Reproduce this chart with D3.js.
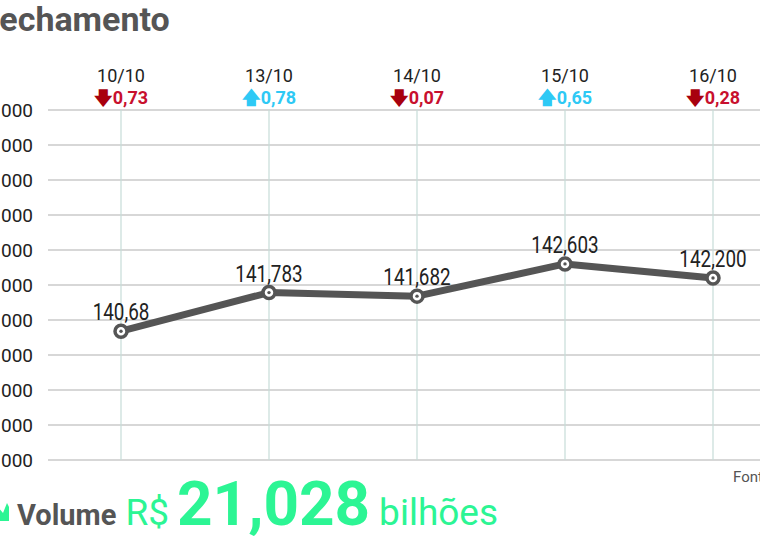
<!DOCTYPE html>
<html><head><meta charset="utf-8">
<script src="https://cdn.jsdelivr.net/npm/d3@7"></script>
<style>
html,body{margin:0;padding:0;background:#fff;overflow:hidden}
svg{display:block}
</style></head>
<body>
<svg id="c" width="760" height="541"></svg>
<script>
const dates = ["10/10","13/10","14/10","15/10","16/10"];
const closes = [140.680,141.783,141.682,142.603,142.200];
const closeLabels = ["140,68","141,783","141,682","142,603","142,200"];
const changes = [-0.73, 0.78, -0.07, 0.65, -0.28];
const yTicks = [137,138,139,140,141,142,143,144,145,146,147];
const volume = "21,028";

const svg = d3.select("#c");
const x = d3.scalePoint().domain(dates).range([121, 713]);
const y = d3.scaleLinear().domain([137, 147]).range([460, 110]);

const roboto = "Roboto, 'Noto Sans', sans-serif";

// Title (partly cut off)
svg.append("text").attr("x", -19).attr("y", 31)
  .attr("font-family", roboto).attr("font-weight", 700).attr("font-size", 34)
  .attr("fill", "#555").text("Fechamento");

// Horizontal grid
svg.append("g").selectAll("line").data(yTicks).join("line")
  .attr("x1", 48).attr("x2", 760)
  .attr("y1", d => y(d)).attr("y2", d => y(d))
  .attr("stroke", "#b0b0b0").attr("stroke-width", 1.2);

// Y labels (left part cut off)
svg.append("g").selectAll("text").data(yTicks).join("text")
  .attr("x", 33).attr("y", d => y(d) + 7)
  .attr("text-anchor", "end")
  .attr("font-family", roboto).attr("font-size", 19).attr("fill", "#222")
  .text(d => d3.format(",")(d * 1000).replace(",", "."));

// Vertical grid
svg.append("g").selectAll("line").data(dates).join("line")
  .attr("x1", d => x(d)).attr("x2", d => x(d))
  .attr("y1", 110).attr("y2", 460)
  .attr("stroke", "#c6dcd8").attr("stroke-width", 1.2);

// Date labels
svg.append("g").selectAll("text").data(dates).join("text")
  .attr("x", d => x(d)).attr("y", 82).attr("text-anchor", "middle")
  .attr("font-family", roboto).attr("font-size", 18).attr("fill", "#222")
  .text(d => d);

// Change labels
const ch = svg.append("g").selectAll("text").data(changes).join("text")
  .attr("x", (d, i) => x(dates[i])).attr("y", 104).attr("text-anchor", "middle")
  .attr("font-family", roboto).attr("font-weight", 700).attr("font-size", 18);
ch.append("tspan").attr("fill", d => d < 0 ? "#a8000e" : "#2ec9f5")
  .text(d => d < 0 ? "\u{1F847}" : "\u{1F845}");
ch.append("tspan").attr("fill", d => d < 0 ? "#c8102e" : "#2ec9f5")
  .text(d => d3.format(".2f")(Math.abs(d)).replace(".", ","));

// Line
const line = d3.line().x((d, i) => x(dates[i])).y(d => y(d));
svg.append("path").datum(closes).attr("d", line)
  .attr("fill", "none").attr("stroke", "#555").attr("stroke-width", 7)
  .attr("stroke-linejoin", "round");

// Markers
const m = svg.append("g").selectAll("g").data(closes).join("g")
  .attr("transform", (d, i) => `translate(${x(dates[i])},${y(d)})`);
m.append("circle").attr("r", 6).attr("fill", "#fff").attr("stroke", "#555").attr("stroke-width", 3.5);
m.append("circle").attr("r", 1.7).attr("fill", "#555");

// Value labels (condensed look)
svg.append("g").selectAll("text").data(closes).join("text")
  .attr("transform", (d, i) => `translate(${x(dates[i])},${y(d) - 11}) scale(0.82,1)`)
  .attr("text-anchor", "middle")
  .attr("font-family", roboto).attr("font-size", 23).attr("fill", "#222")
  .text((d, i) => closeLabels[i]);

// Source (cut off)
svg.append("text").attr("x", 733).attr("y", 482)
  .attr("font-family", roboto).attr("font-size", 15).attr("fill", "#555")
  .text("Fonte: B3");

// Volume row
const green = "#2cf594";
svg.append("path").attr("d", "M-2,521 L-2,507 L3,513 L7,503 L9,507 L9,521 Z").attr("fill", green);
const vol = svg.append("text").attr("x", 17).attr("y", 525)
  .attr("font-family", roboto);
vol.append("tspan").attr("font-weight", 700).attr("font-size", 29).attr("fill", "#555").text("Volume");
vol.append("tspan").attr("dx", 9).attr("font-size", 37).attr("fill", green).text("R$");
vol.append("tspan").attr("dx", 8).attr("font-weight", 700).attr("font-size", 62).attr("fill", green).text(volume);
vol.append("tspan").attr("dx", 9).attr("font-size", 37).attr("fill", green).text("bilhões");
</script>
</body></html>
